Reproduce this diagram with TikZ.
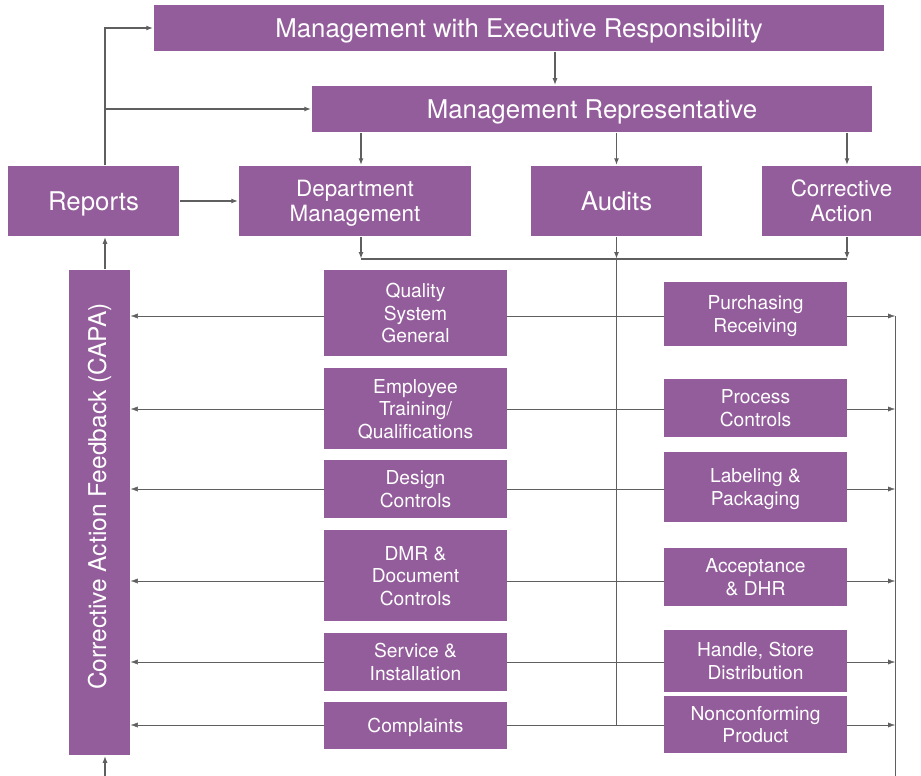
\documentclass[tikz,border=0pt]{standalone}
\usepackage{fontspec}
\setmainfont{TeX Gyre Heros}
\usepackage{tikz}
\usetikzlibrary{positioning,backgrounds,arrows.meta}
\definecolor{qspurple}{RGB}{147,92,155}
\definecolor{qsgray}{RGB}{95,95,95}

\begin{document}
\begin{tikzpicture}[x=1pt,y=-1pt,>={Latex[length=7pt,width=5pt]},
            line width=1.5pt,
            box/.style={fill=qspurple,text=white,inner sep=0pt,align=center,
              text depth=0pt,font=\fontsize{19.2}{22.5}\selectfont},
            big box/.style={box,font=\fontsize{25.8}{28}\selectfont},
            mid box/.style={box,font=\fontsize{22.4}{25}\selectfont},
            link/.style={draw=qsgray,->}]
    \useasboundingbox (0,0) rectangle (921,776);

    % management levels
    \node[big box,minimum width=730pt,minimum height=46pt] (exec) at (519,28) {Management with Executive Responsibility};
    \node[big box,minimum width=560pt,minimum height=46pt] (rep) at (592,109) {Management Representative};
    \node[big box,minimum width=171pt,minimum height=70pt] (reports) at (93.5,201) {Reports};
    \node[mid box,minimum width=232pt,minimum height=70pt] (dept) at (355,201) {Department\\Management};
    \node[big box,minimum width=171pt,minimum height=70pt] (audits) at (616.5,201) {Audits};
    \node[mid box,minimum width=159pt,minimum height=70pt] (corr) at (841.5,201) {Corrective\\Action};
    \node[box,minimum width=61pt,minimum height=485pt] (capa) at (99.5,512.5)
        {\rotatebox{90}{\fontsize{24.5}{26}\selectfont\hspace{32pt}Corrective Action Feedback (CAPA)}};

    % subsystems, left column
    \node[box,minimum width=183pt,minimum height=86pt] (qsg) at (415.5,313) {Quality\\System\\General};
    \node[box,minimum width=183pt,minimum height=81pt] (train) at (415.5,408.5) {Employee\\Training/\\Qualifications};
    \node[box,minimum width=183pt,minimum height=58pt] (design) at (415.5,489) {Design\\Controls};
    \node[box,minimum width=183pt,minimum height=91pt] (dmr) at (415.5,575.5) {DMR \&\\Document\\Controls};
    \node[box,minimum width=183pt,minimum height=58pt] (service) at (415.5,662) {Service \&\\Installation};
    \node[box,minimum width=183pt,minimum height=47pt] (compl) at (415.5,725.5) {Complaints};

    % subsystems, right column
    \node[box,minimum width=183pt,minimum height=64pt] (purch) at (755.5,314) {Purchasing\\Receiving};
    \node[box,minimum width=183pt,minimum height=58pt] (proc) at (755.5,408) {Process\\Controls};
    \node[box,minimum width=183pt,minimum height=70pt] (label) at (755.5,487) {Labeling \&\\Packaging};
    \node[box,minimum width=183pt,minimum height=58pt] (accept) at (755.5,577) {Acceptance\\\& DHR};
    \node[box,minimum width=183pt,minimum height=62pt] (handle) at (755.5,661) {Handle, Store\\Distribution};
    \node[box,minimum width=183pt,minimum height=57pt] (noncon) at (755.5,724.5) {Nonconforming\\Product};

    \coordinate (busl) at (361,259);
    \coordinate (busr) at (847,259);
    \coordinate (fb) at (105,776);
    \coordinate (rx) at (reports.north -| fb);
    \coordinate (r1) at (895,316);
    \coordinate (r2) at (895,409);
    \coordinate (r3) at (895,489);
    \coordinate (r4) at (895,581);
    \coordinate (r5) at (895,662);
    \coordinate (r6) at (895,725);
    \coordinate (rb) at (895,776);

    % top part
    \draw[link] ([xshift=36pt]exec.south) -- ([xshift=36pt]exec.south |- rep.north);
    \draw[link] (rep.south -| busl) -- (dept.north -| busl);
    \draw[link] (rep.south -| audits) -- (audits.north);
    \draw[link] (rep.south -| busr) -- (corr.north -| busr);
    \draw[link] (rx) |- (exec.west);
    \draw[link] (rx |- rep.west) -- (rep.west);
    \draw[link] (reports) -- (dept);
    \draw[link] (capa.north -| fb) -- (reports.south -| fb);
    \draw[link] (fb) -- (capa.south -| fb);

    % bus under the management row
    \draw[link] (dept.south -| busl) -- (busl);
    \draw[link] (audits.south) -- (audits.south |- busl);
    \draw[link] (corr.south -| busr) -- (busr);
    \draw[draw=qsgray] (busl) -- (busr);

    % feedback lines behind the boxes
    \begin{scope}[on background layer]
        \draw[draw=qsgray] (audits.south |- busl) -- (audits.south |- r6);
        \draw[draw=qsgray] (r1) -- (rb);
        \foreach \r in {r1,r2,r3,r4,r5,r6}
            \draw[link,<->] (capa.east |- \r) -- (\r);
    \end{scope}
\end{tikzpicture}
\end{document}
